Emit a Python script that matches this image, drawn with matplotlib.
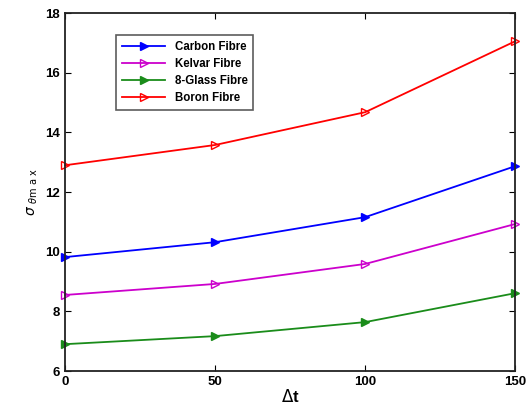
import matplotlib
matplotlib.use('Agg')
import matplotlib.pyplot as plt

plt.rcParams['font.family'] = ['Liberation Sans', 'DejaVu Sans']

dt = [0, 50, 100, 150]
carbon = [9.82, 10.32, 11.16, 12.87]
kelvar = [8.55, 8.92, 9.59, 10.93]
glass = [6.90, 7.17, 7.64, 8.61]
boron = [12.90, 13.58, 14.68, 17.06]
labels = ['Carbon Fibre', 'Kelvar Fibre', '8-Glass Fibre', 'Boron Fibre']

fig = plt.figure(figsize=(5.29, 4.12), dpi=100)
ax = fig.add_axes([0.123, 0.0995, 0.851, 0.8685])

series = [carbon, kelvar, glass, boron]
colors = ['#0000ff', '#cc00cc', '#1a8c1a', '#ff0000']
fills = [True, False, True, False]
for ys, c, lab, f in zip(series, colors, labels, fills):
    ax.plot(dt, ys, color=c, marker='>', markersize=6, linewidth=1.3,
            markerfacecolor=c if f else 'none', markeredgecolor=c,
            clip_on=False, label=lab)

ax.set_xlim(0, 150)
ax.set_ylim(6, 18)
ax.set_xticks([0, 50, 100, 150])
ax.set_yticks([6, 8, 10, 12, 14, 16, 18])
ax.tick_params(direction='in', top=True, right=True, labelsize=9.5, length=4)
for t in ax.get_xticklabels() + ax.get_yticklabels():
    t.set_fontweight('bold')
for s in ax.spines.values():
    s.set_linewidth(1.3)
    s.set_color('#222222')

ax.set_xlabel(r'$\Delta$t', fontsize=12, fontweight='bold', labelpad=0)
ax.set_ylabel(r'$\sigma$ $_{\theta\mathrm{m\ a\ x}}$', fontsize=10, labelpad=4)

leg = ax.legend(loc='upper left', bbox_to_anchor=(0.1, 0.955), fontsize=8.3,
                frameon=True, fancybox=False, edgecolor='#333333',
                handlelength=3.8, borderpad=0.5, labelspacing=0.45)
leg.get_frame().set_linewidth(1.2)
for t in leg.get_texts():
    t.set_fontweight('bold')

fig.savefig('out.png', dpi=100)
